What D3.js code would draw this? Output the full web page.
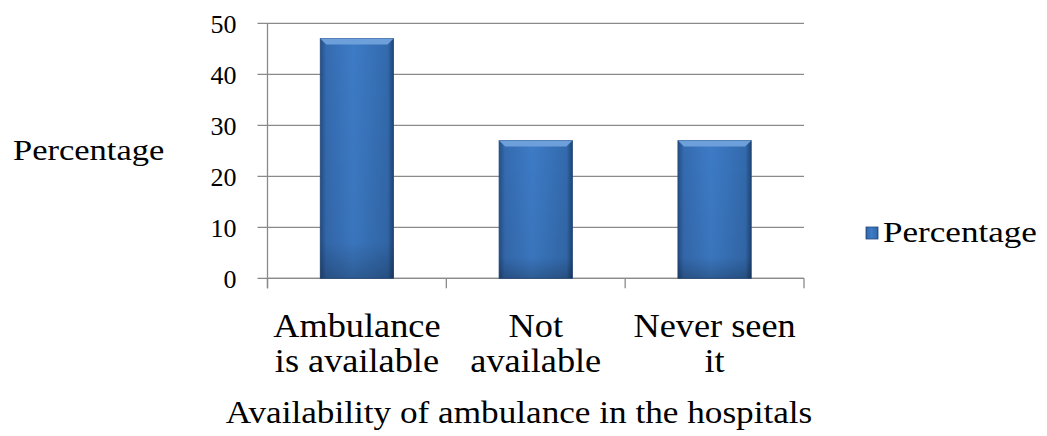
<!DOCTYPE html>
<html lang="en">
  <head>
    <meta charset="UTF-8" />
    <script src="https://d3js.org/d3.v7.min.js"></script>
    <style>
      body { margin: 0; background: #fff; }
    </style>
  </head>
  <body>
    <div id="my_dataviz"></div>
    <script>
      // data
      var categories = ["Ambulance is available", "Not available", "Never seen it"];
      var categoryLines = [["Ambulance", "is available"], ["Not", "available"], ["Never seen", "it"]];
      var values = [47, 27, 27];
      var yTicks = [0, 10, 20, 30, 40, 50];
      var seriesName = "Percentage";

      var W = 1047, H = 436;
      var FONT = "Liberation Serif";
      var plot = { left: 267.5, right: 804, top: 23.3, bottom: 278.3 };

      var svg = d3.select("#my_dataviz").append("svg")
        .attr("width", W).attr("height", H)
        .attr("font-family", FONT);

      // bar gradients
      var defs = svg.append("defs");
      var grad = defs.append("linearGradient").attr("id", "barGrad")
        .attr("x1", "0%").attr("x2", "100%").attr("y1", "0%").attr("y2", "0%");
      grad.append("stop").attr("offset", "0%").attr("stop-color", "#244f86");
      grad.append("stop").attr("offset", "8%").attr("stop-color", "#356bb0");
      grad.append("stop").attr("offset", "45%").attr("stop-color", "#3d7bc6");
      grad.append("stop").attr("offset", "92%").attr("stop-color", "#336aad");
      grad.append("stop").attr("offset", "100%").attr("stop-color", "#1f4576");
      var vgrad = defs.append("linearGradient").attr("id", "barShade")
        .attr("x1", "0%").attr("x2", "0%").attr("y1", "0%").attr("y2", "100%");
      vgrad.append("stop").attr("offset", "0%").attr("stop-color", "#000").attr("stop-opacity", 0);
      vgrad.append("stop").attr("offset", "85%").attr("stop-color", "#000").attr("stop-opacity", 0.05);
      vgrad.append("stop").attr("offset", "100%").attr("stop-color", "#000").attr("stop-opacity", 0.25);

      var x = d3.scaleBand()
        .domain(categories)
        .range([plot.left, plot.right])
        .paddingInner(0.59)
        .paddingOuter(0.295);

      var y = d3.scaleLinear()
        .domain([0, 50])
        .range([plot.bottom, plot.top]);

      // gridlines (they also make the small y tick marks)
      svg.append("g")
        .selectAll("line")
        .data(yTicks)
        .enter()
        .append("line")
        .attr("x1", plot.left - 10)
        .attr("x2", plot.right)
        .attr("y1", (d) => y(d))
        .attr("y2", (d) => y(d))
        .attr("stroke", "#8a8a8a")
        .attr("stroke-width", 1.3);

      // y axis
      var yAxis = svg.append("g")
        .attr("transform", "translate(" + plot.left + ",0)")
        .call(d3.axisLeft(y).tickValues(yTicks).tickSize(10).tickPadding(21));
      yAxis.attr("font-family", FONT).attr("font-size", 26);
      yAxis.select(".domain").remove();
      yAxis.selectAll(".tick line").remove();
      yAxis.selectAll("text")
        .attr("fill", "#000")
        .attr("dy", "0.34em");
      svg.append("line")
        .attr("x1", plot.left).attr("x2", plot.left)
        .attr("y1", plot.top).attr("y2", plot.bottom + 10)
        .attr("stroke", "#8a8a8a").attr("stroke-width", 1.3);

      // x axis with ticks between categories
      var edges = [plot.left].concat(categories.map((c) => x(c) + x.bandwidth() + x.step() * 0.295));
      svg.append("line")
        .attr("x1", plot.left).attr("x2", plot.right)
        .attr("y1", plot.bottom).attr("y2", plot.bottom)
        .attr("stroke", "#8a8a8a").attr("stroke-width", 1.3);
      svg.append("g")
        .selectAll("line")
        .data(edges)
        .enter()
        .append("line")
        .attr("x1", (d) => d).attr("x2", (d) => d)
        .attr("y1", plot.bottom).attr("y2", plot.bottom + 10)
        .attr("stroke", "#8a8a8a").attr("stroke-width", 1.3);

      // bars
      var bars = svg.append("g").selectAll("g")
        .data(values)
        .enter()
        .append("g");
      bars.append("rect")
        .attr("x", (d, i) => x(categories[i]))
        .attr("y", (d) => y(d))
        .attr("width", x.bandwidth())
        .attr("height", (d) => y(0) - y(d))
        .attr("fill", "url(#barGrad)")
        .attr("stroke", "#23497c")
        .attr("stroke-width", 0.8);
      bars.append("rect")
        .attr("x", (d, i) => x(categories[i]))
        .attr("y", (d) => y(d))
        .attr("width", x.bandwidth())
        .attr("height", (d) => y(0) - y(d))
        .attr("fill", "url(#barShade)");
      // top bevel
      var bv = 6;
      bars.append("path")
        .attr("d", function (d, i) {
          var x0 = x(categories[i]), x1 = x0 + x.bandwidth(), t = y(d);
          return "M" + x0 + "," + t + "L" + x1 + "," + t + "L" + (x1 - bv) + "," + (t + bv) +
            "L" + (x0 + bv) + "," + (t + bv) + "Z";
        })
        .attr("fill", "#6d9fdb");

      // category labels
      var labels = svg.append("g").selectAll("text")
        .data(categoryLines)
        .enter()
        .append("text")
        .attr("text-anchor", "middle")
        .attr("font-size", 33)
        .attr("transform", (d, i) => "translate(" + (x(categories[i]) + x.bandwidth() / 2) + ",0) scale(1.1,1)");
      labels.selectAll("tspan")
        .data((d) => d)
        .enter()
        .append("tspan")
        .attr("x", 0)
        .attr("y", (d, j) => 337 + j * 35.5)
        .text((d) => d);

      // y axis title
      svg.append("text")
        .attr("transform", "translate(13,160) scale(1.15,1)")
        .attr("font-size", 30)
        .text(seriesName);

      // x axis title
      svg.append("text")
        .attr("transform", "translate(519,423) scale(1.1,1)")
        .attr("text-anchor", "middle")
        .attr("font-size", 32)
        .text("Availability of ambulance in the hospitals");

      // legend
      var legend = svg.append("g").attr("transform", "translate(866,227)");
      legend.append("rect")
        .attr("width", 12).attr("height", 12)
        .attr("fill", "url(#barGrad)")
        .attr("stroke", "#23497c").attr("stroke-width", 0.8);
      legend.append("text")
        .attr("transform", "translate(17,15) scale(1.17,1)")
        .attr("font-size", 30)
        .text(seriesName);
    </script>
  </body>
</html>
